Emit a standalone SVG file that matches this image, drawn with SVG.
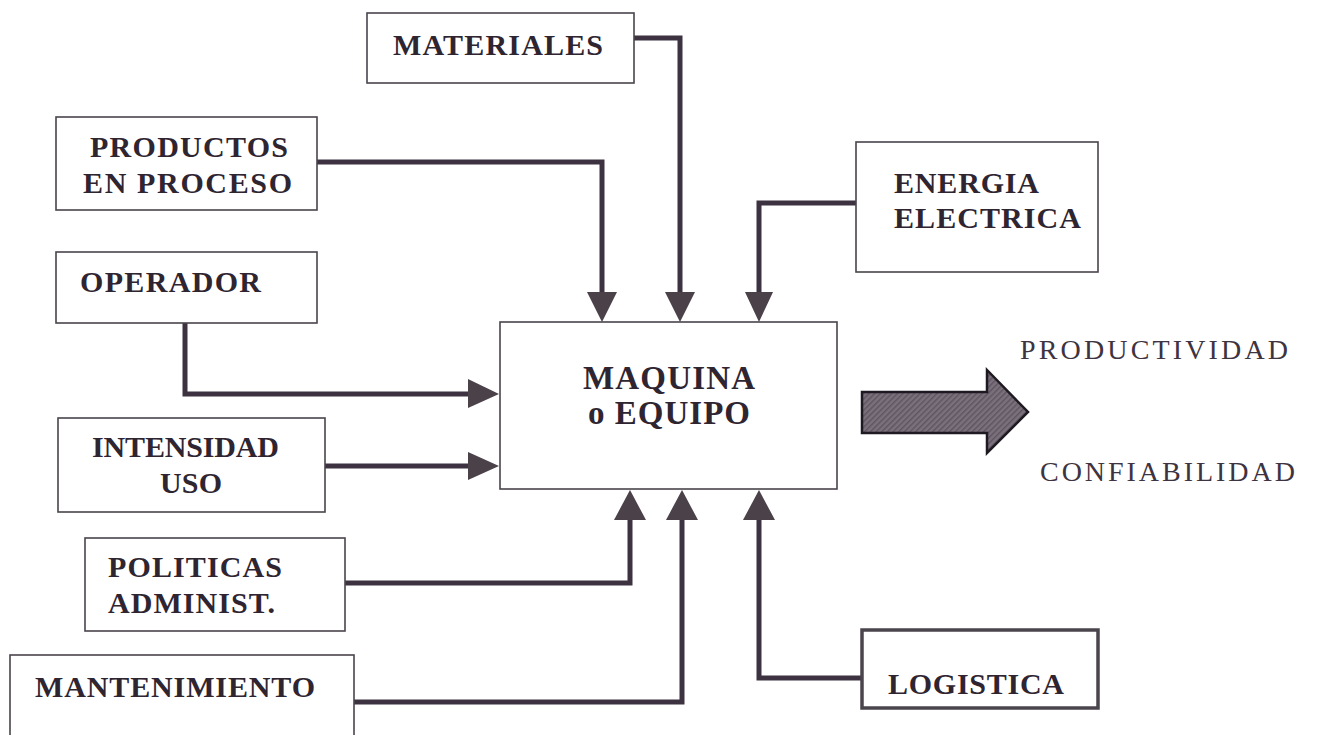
<svg xmlns="http://www.w3.org/2000/svg" width="1324" height="735" viewBox="0 0 1324 735">
<defs>
<style>
.box{fill:#ffffff;stroke:#4a444c;stroke-width:1.6}
.lbl{font-family:"Liberation Serif","Times New Roman",serif;font-weight:bold;font-size:30px;fill:#2f2531}
.out{font-family:"Liberation Serif","Times New Roman",serif;font-size:28px;fill:#3e3340}
.wire{fill:none;stroke:#3d3340;stroke-width:5;stroke-linejoin:miter}
.head{fill:#4a4149}
</style>
<pattern id="hatch" width="4" height="4" patternUnits="userSpaceOnUse" patternTransform="rotate(45)">
<rect width="4" height="4" fill="#7a717c"/>
<rect width="1.5" height="4" fill="#5e5561"/>
</pattern>
</defs>
<rect width="1324" height="735" fill="#ffffff"/>
<g id="connectors">
<polyline class="wire" points="634,38 680,38 680,294"/>
<polyline class="wire" points="317,162 602,162 602,294"/>
<polyline class="wire" points="856,203 759,203 759,294"/>
<polyline class="wire" points="185,323 185,394 469,394"/>
<polyline class="wire" points="318,466 469,466"/>
<polyline class="wire" points="345,583 630,583 630,518"/>
<polyline class="wire" points="349,702 682,702 682,518" style="stroke-linecap:round"/>
<polyline class="wire" points="862,678 759,678 759,518"/>
<polygon class="head" points="587,292 617,292 602,322"/>
<polygon class="head" points="665,292 695,292 680,322"/>
<polygon class="head" points="745,292 773,292 759,322"/>
<polygon class="head" points="468,379 468,408 499,394"/>
<polygon class="head" points="468,452 468,480 499,466"/>
<polygon class="head" points="614,520 646,520 630,490"/>
<polygon class="head" points="666,520 698,520 682,490"/>
<polygon class="head" points="743,520 775,520 759,490"/>
<polygon points="862,392 987,392 987,370 1028,412 987,453 987,433 862,433" fill="url(#hatch)" stroke="#1f1a21" stroke-width="2.5"/>
</g>
<g id="materiales">
<rect class="box" x="367" y="13" width="267" height="70"/>
<text class="lbl" x="393" y="55" textLength="210" lengthAdjust="spacing">MATERIALES</text>
</g>
<g id="productos">
<rect class="box" x="56" y="117" width="261" height="93"/>
<text class="lbl" x="90" y="157" textLength="198" lengthAdjust="spacing">PRODUCTOS</text>
<text class="lbl" x="83" y="193" textLength="209" lengthAdjust="spacing">EN PROCESO</text>
</g>
<g id="operador">
<rect class="box" x="56" y="252" width="261" height="71"/>
<text class="lbl" x="80" y="292" textLength="181" lengthAdjust="spacing">OPERADOR</text>
</g>
<g id="intensidad">
<rect class="box" x="58" y="418" width="267" height="94"/>
<text class="lbl" x="92" y="457" textLength="187" lengthAdjust="spacing">INTENSIDAD</text>
<text class="lbl" x="160" y="493" textLength="62" lengthAdjust="spacing">USO</text>
</g>
<g id="politicas">
<rect class="box" x="85" y="538" width="260" height="93"/>
<text class="lbl" x="108" y="577" textLength="174" lengthAdjust="spacing">POLITICAS</text>
<text class="lbl" x="108" y="613" textLength="167" lengthAdjust="spacing">ADMINIST.</text>
</g>
<g id="mantenimiento">
<rect class="box" x="10" y="655" width="344" height="85"/>
<text class="lbl" x="35" y="697" textLength="280" lengthAdjust="spacing">MANTENIMIENTO</text>
</g>
<g id="energia">
<rect class="box" x="856" y="142" width="242" height="130"/>
<text class="lbl" x="894" y="193" textLength="145" lengthAdjust="spacing">ENERGIA</text>
<text class="lbl" x="894" y="228" textLength="187" lengthAdjust="spacing">ELECTRICA</text>
</g>
<g id="logistica">
<rect class="box" x="862" y="630" width="236" height="78" style="stroke-width:3.5"/>
<text class="lbl" x="888" y="694" textLength="176" lengthAdjust="spacing">LOGISTICA</text>
</g>
<g id="maquina">
<rect class="box" x="500" y="322" width="337" height="167"/>
<text class="lbl" x="583" y="389" textLength="172" lengthAdjust="spacing" style="font-size:33px">MAQUINA</text>
<text class="lbl" x="588" y="424" textLength="162" lengthAdjust="spacing" style="font-size:33px">o EQUIPO</text>
</g>
<g id="resultados">
<text class="out" x="1020" y="359" textLength="268" lengthAdjust="spacing">PRODUCTIVIDAD</text>
<text class="out" x="1040" y="481" textLength="255" lengthAdjust="spacing">CONFIABILIDAD</text>
</g>
</svg>
